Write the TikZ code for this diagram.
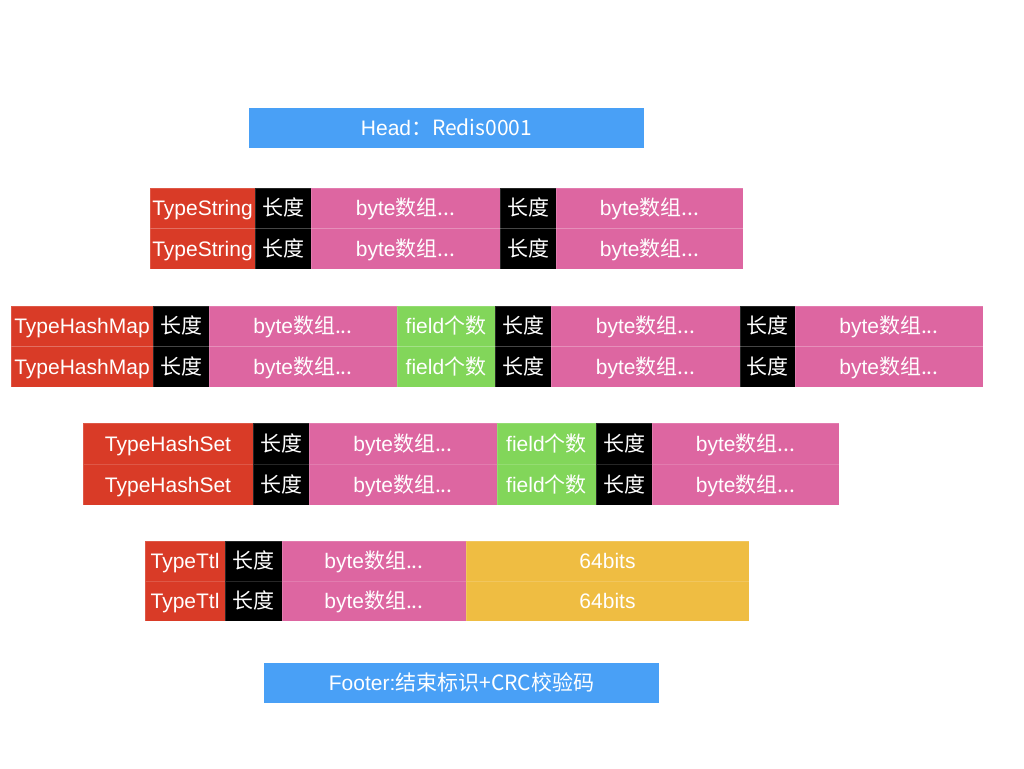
\documentclass[tikz,border=0pt]{standalone}
\usepackage{fontspec}
\setmainfont{Liberation Sans}
\newfontfamily\cjk{Noto Sans CJK SC}
\definecolor{cred}{HTML}{D93B27}
\definecolor{cblack}{HTML}{000000}
\definecolor{cpink}{HTML}{DD66A1}
\definecolor{cgreen}{HTML}{82D65A}
\definecolor{cyellow}{HTML}{EFBD42}
\definecolor{cblue}{HTML}{49A0F6}
\tikzset{
  cell/.style={draw=white, draw opacity=0.15, line width=0.6pt, inner sep=0pt, text=white,
    text height=16pt, text depth=1pt,
    font=\fontsize{21}{24}\selectfont}
}
\newcommand\cellbox[7]{%
  \pgfmathsetmacro\cx{(#3+#4)/2}%
  \pgfmathsetmacro\cy{(#5+#6)/2}%
  \pgfmathsetmacro\cw{#4-#3}%
  \pgfmathsetmacro\ch{#6-#5}%
  \node[cell, fill=#2, minimum width=\cw pt, minimum height=\ch pt] (#1) at (\cx,\cy) {#7};}
\newcommand\len{\cjk{长度}}
\newcommand\arr{byte\cjk{数组}...}
\newcommand\fld{field\cjk{个数}}
\begin{document}
\begin{tikzpicture}[x=1pt,y=-1pt]
\useasboundingbox[fill=white] (0,0) rectangle (1024,768);
% Head
\node[cell, fill=cblue, draw=none, minimum width=395pt, minimum height=40pt] (head) at (446.5,128) {Head\cjk{：}Redis0001};
% TypeString rows
\foreach \r/\t in {1/188, 2/228.5}{
  \pgfmathsetmacro\b{\t+40.5}
  \cellbox{ts\r a}{cred}{150}{255}{\t}{\b}{TypeString}
  \cellbox{ts\r b}{cblack}{255}{311}{\t}{\b}{\len}
  \cellbox{ts\r c}{cpink}{311}{500}{\t}{\b}{\arr}
  \cellbox{ts\r d}{cblack}{500}{556}{\t}{\b}{\len}
  \cellbox{ts\r e}{cpink}{556}{743}{\t}{\b}{\arr}
}
% TypeHashMap rows
\foreach \r/\t in {1/306, 2/346.5}{
  \pgfmathsetmacro\b{\t+40.5}
  \cellbox{hm\r a}{cred}{11}{153}{\t}{\b}{TypeHashMap}
  \cellbox{hm\r b}{cblack}{153}{209}{\t}{\b}{\len}
  \cellbox{hm\r c}{cpink}{209}{397}{\t}{\b}{\arr}
  \cellbox{hm\r d}{cgreen}{397}{495}{\t}{\b}{\fld}
  \cellbox{hm\r e}{cblack}{495}{551}{\t}{\b}{\len}
  \cellbox{hm\r f}{cpink}{551}{740}{\t}{\b}{\arr}
  \cellbox{hm\r g}{cblack}{740}{795}{\t}{\b}{\len}
  \cellbox{hm\r h}{cpink}{795}{983}{\t}{\b}{\arr}
}
% TypeHashSet rows
\foreach \r/\t in {1/423, 2/464}{
  \pgfmathsetmacro\b{\t+41}
  \cellbox{hs\r a}{cred}{83}{253}{\t}{\b}{TypeHashSet}
  \cellbox{hs\r b}{cblack}{253}{309}{\t}{\b}{\len}
  \cellbox{hs\r c}{cpink}{309}{497}{\t}{\b}{\arr}
  \cellbox{hs\r d}{cgreen}{497}{596}{\t}{\b}{\fld}
  \cellbox{hs\r e}{cblack}{596}{652}{\t}{\b}{\len}
  \cellbox{hs\r f}{cpink}{652}{839}{\t}{\b}{\arr}
}
% TypeTtl rows
\foreach \r/\t in {1/541, 2/581}{
  \pgfmathsetmacro\b{\t+40}
  \cellbox{tt\r a}{cred}{145}{225}{\t}{\b}{TypeTtl}
  \cellbox{tt\r b}{cblack}{225}{282}{\t}{\b}{\len}
  \cellbox{tt\r c}{cpink}{282}{466}{\t}{\b}{\arr}
  \cellbox{tt\r d}{cyellow}{466}{749}{\t}{\b}{64bits}
}
% Footer
\node[cell, fill=cblue, draw=none, minimum width=395pt, minimum height=40pt] (foot) at (461.5,683) {Footer:\cjk{结束标识}+CRC\cjk{校验码}};
\end{tikzpicture}
\end{document}
